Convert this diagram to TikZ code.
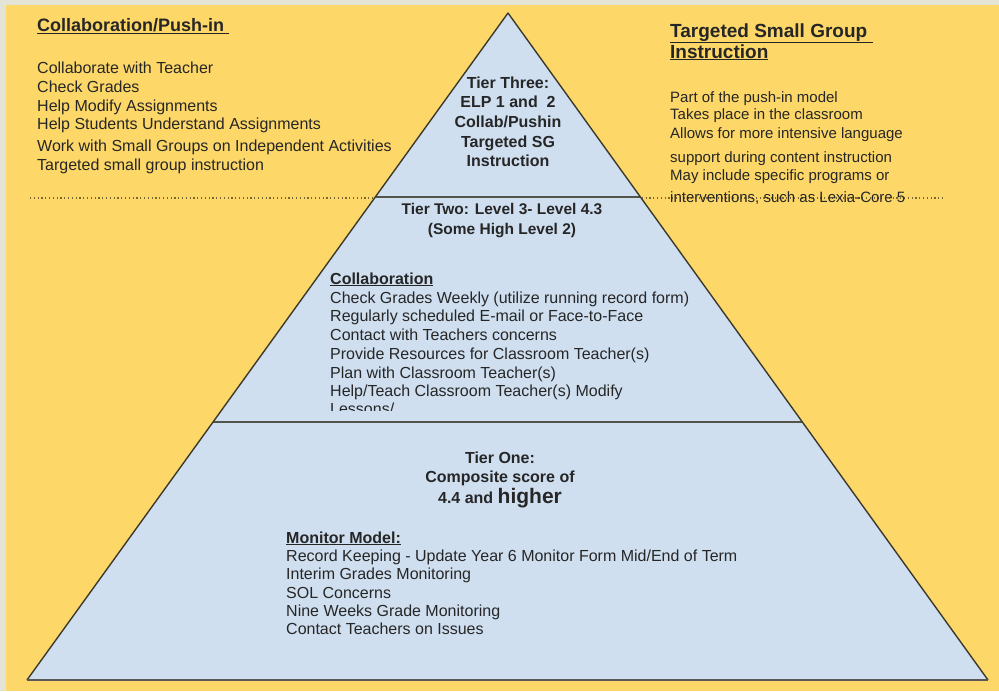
\documentclass[tikz,border=0pt]{standalone}
\usepackage{fontspec}
\setmainfont{Liberation Sans}
\usetikzlibrary{calc}
\definecolor{framegrey}{RGB}{227, 227, 214}
\definecolor{bgyellow}{RGB}{253, 216, 104}
\definecolor{tierblue}{RGB}{207, 223, 240}
\definecolor{edgedark}{RGB}{60, 58, 44}
\definecolor{inkgrey}{RGB}{38, 38, 38}
\definecolor{dotbrown}{RGB}{120, 104, 50}

\tikzset{
  listtxt/.style={anchor=base west, inner sep=0pt, text=inkgrey, font=\fontsize{16}{18}\selectfont},
  sidetxt/.style={listtxt, font=\fontsize{15}{17}\selectfont},
  headtxt/.style={anchor=base west, inner sep=0pt, text=black!85, font=\bfseries\fontsize{18}{20}\selectfont},
  tiertxt/.style={anchor=base, inner sep=0pt, text=black!85, font=\bfseries\fontsize{16}{18}\selectfont},
  dotline/.style={draw=dotbrown, line width=1.2pt, dash pattern=on 1.2pt off 2.6pt},
  tierline/.style={draw=edgedark!85!tierblue, line width=1.8pt},
}

\begin{document}
\begin{tikzpicture}[x=1pt, y=-1pt]
  \useasboundingbox (0,0) rectangle (999,691);
  % background
  \fill[framegrey] (0,0) rectangle (999,691);
  \fill[bgyellow] (6,5) rectangle (999,691);

  % corners of the pyramid
  \coordinate (apex) at (508,13);
  \coordinate (bl) at (27,680);
  \coordinate (br) at (988,680);

  % dotted divider behind the pyramid
  \coordinate (dotl) at (30,198);
  \coordinate (dotr) at (945,198);
  \draw[dotline] (dotl) -- (dotr);

  % pyramid
  \fill[tierblue] (apex) -- (bl) -- (br) -- cycle;
  \coordinate (t3l) at ($(apex)!{184/667}!(bl)$);
  \coordinate (t3r) at ($(apex)!{184/667}!(br)$);
  \coordinate (t2l) at ($(apex)!{409/667}!(bl)$);
  \coordinate (t2r) at ($(apex)!{409/667}!(br)$);
  \draw[tierline] (t3l) -- (t3r);
  \draw[tierline] (t2l) -- (t2r);
  \draw[edgedark, line width=1.4pt, line join=round] (bl) -- (apex) -- (br);
  \draw[gray!70!black, line width=2.6pt] (bl) -- (br);

  % Collaboration/Push-in
  \node[headtxt] (lhead) at (37,31) {\underline{Collaboration/Push-in\ }};
  \node[listtxt] (l1) at (37,73) {Collaborate with Teacher};
  \node[listtxt] (l2) at (37,92) {Check Grades};
  \node[listtxt] (l3) at (37,111) {Help Modify Assignments};
  \node[listtxt] (l4) at (37,129) {Help Students Understand Assignments};
  \node[listtxt] (l5) at (37,151) {Work with Small Groups on Independent Activities};
  \node[listtxt] (l6) at (37,170) {Targeted small group instruction};

  % Targeted Small Group Instruction
  \node[headtxt, font=\bfseries\fontsize{19}{21}\selectfont] (rhead1) at (670,37) {\underline{Targeted Small Group\ }};
  \node[headtxt, font=\bfseries\fontsize{19}{21}\selectfont] (rhead2) at (670,58) {\underline{Instruction}};
  \node[sidetxt] (r1) at (670,102) {Part of the push-in model};
  \node[sidetxt] (r2) at (670,119) {Takes place in the classroom};
  \node[sidetxt] (r3) at (670,138) {Allows for more intensive language};
  \node[sidetxt] (r4) at (670,162) {support during content instruction};
  \node[sidetxt] (r5) at (670,180) {May include specific programs or};
  \node[sidetxt] (r6) at (670,202) {interventions, such as Lexia-Core 5};

  % Tier three
  \node[tiertxt] (t3a) at (508,88) {Tier Three:};
  \node[tiertxt] (t3b) at (508,107) {ELP 1 and\ \ 2};
  \node[tiertxt] (t3c) at (508,127) {Collab/Pushin};
  \node[tiertxt] (t3d) at (508,147) {Targeted SG};
  \node[tiertxt] (t3e) at (508,166) {Instruction};

  % Tier two
  \node[tiertxt, font=\bfseries\fontsize{15.5}{18}\selectfont] (t2a) at (502,214) {Tier Two: Level 3- Level 4.3};
  \node[tiertxt, font=\bfseries\fontsize{15.5}{18}\selectfont] (t2b) at (502,234) {(Some High Level 2)};
  \node[headtxt, font=\bfseries\fontsize{16}{18}\selectfont] (t2head) at (330,284) {\underline{Collaboration}};
  \begin{scope}
    \clip (200,240) rectangle (820,410);
    \node[listtxt] (c1) at (330,303) {Check Grades Weekly (utilize running record form)};
    \node[listtxt] (c2) at (330,321) {Regularly scheduled E-mail or Face-to-Face};
    \node[listtxt] (c3) at (330,340) {Contact with Teachers concerns};
    \node[listtxt] (c4) at (330,359) {Provide Resources for Classroom Teacher(s)};
    \node[listtxt] (c5) at (330,378) {Plan with Classroom Teacher(s)};
    \node[listtxt] (c6) at (330,396) {Help/Teach Classroom Teacher(s) Modify};
    \node[listtxt] (c7) at (330,414) {Lessons/};
  \end{scope}

  % Tier one
  \node[tiertxt] (t1a) at (500,463) {Tier One:};
  \node[tiertxt] (t1b) at (500,482) {Composite score of};
  \node[tiertxt] (t1c) at (500,503) {4.4 and {\fontsize{21}{22}\selectfont higher}};
  \node[headtxt, font=\bfseries\fontsize{16}{18}\selectfont] (mhead) at (286,543) {\underline{Monitor Model:}};
  \node[listtxt] (m1) at (286,561) {Record Keeping - Update Year 6 Monitor Form Mid/End of Term};
  \node[listtxt] (m2) at (286,579) {Interim Grades Monitoring};
  \node[listtxt] (m3) at (286,598) {SOL Concerns};
  \node[listtxt] (m4) at (286,616) {Nine Weeks Grade Monitoring};
  \node[listtxt] (m5) at (286,634) {Contact Teachers on Issues};
\end{tikzpicture}
\end{document}
